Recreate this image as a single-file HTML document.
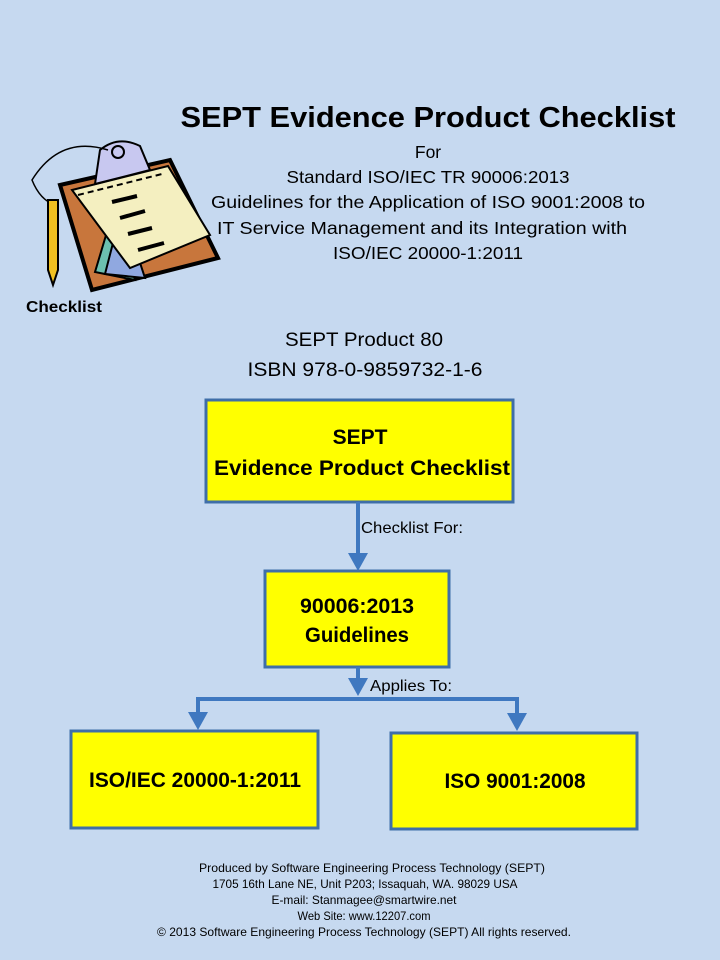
<!DOCTYPE html>
<html><head><meta charset="utf-8"><style>
html,body{margin:0;padding:0;background:#c6d9f0;}
svg{display:block;font-family:"Liberation Sans",sans-serif;}
</style></head><body>
<svg width="720" height="960" viewBox="0 0 720 960" xmlns="http://www.w3.org/2000/svg">
<rect width="720" height="960" fill="#c6d9f0"/>
<!-- clipart -->
<g stroke="#000" stroke-width="2">
<path d="M60 185 L170 160 L218 258 L92 290 Z" fill="#c8763c" stroke-width="4"/>
<path d="M95 272 L115 205 L135 280 Z" fill="#6cc0b0"/>
<path d="M105 274 L122 208 L145 278 Z" fill="#90a8e0"/>
<path d="M72 190 L168 166 L210 235 L130 268 Z" fill="#f4efc0"/>
<path d="M78 195 L162 174" fill="none" stroke-dasharray="6 4"/>
<path d="M100 150 Q118 135 140 146 L150 170 L95 184 Z" fill="#c8c8f0"/>
<circle cx="118" cy="152" r="6" fill="none"/>
<path d="M112 202 l25 -6 M120 218 l25 -7 M128 234 l24 -6 M138 250 l26 -7" stroke-width="4"/>
<path d="M108 150 Q60 135 32 180 Q40 200 55 205" fill="none" stroke-width="1.5"/>
<path d="M48 200 L58 200 L58 270 L53 285 L48 270 Z" fill="#f0c020"/>
</g>
<text x="64" y="312" font-size="16" font-weight="bold" text-anchor="middle" textLength="76" lengthAdjust="spacingAndGlyphs">Checklist</text>
<!-- title -->
<text x="428" y="127" font-size="29" font-weight="bold" text-anchor="middle" textLength="495" lengthAdjust="spacingAndGlyphs">SEPT Evidence Product Checklist</text>
<g font-size="17.5" text-anchor="middle">
<text x="428" y="158">For</text>
<text x="428" y="183" textLength="283" lengthAdjust="spacingAndGlyphs">Standard ISO/IEC TR 90006:2013</text>
<text x="428" y="208" textLength="434" lengthAdjust="spacingAndGlyphs">Guidelines for the Application of ISO 9001:2008 to</text>
<text x="422" y="234" textLength="410" lengthAdjust="spacingAndGlyphs">IT Service  Management and its Integration with</text>
<text x="428" y="259" textLength="190" lengthAdjust="spacingAndGlyphs">ISO/IEC 20000-1:2011</text>
</g>
<g font-size="19.5" text-anchor="middle">
<text x="364" y="346" textLength="158" lengthAdjust="spacingAndGlyphs">SEPT Product 80</text>
<text x="365" y="376" textLength="235" lengthAdjust="spacingAndGlyphs">ISBN 978-0-9859732-1-6</text>
</g>
<!-- boxes -->
<g fill="#ffff00" stroke="#3f6ea8" stroke-width="3">
<rect x="206" y="400" width="307" height="102"/>
<rect x="265" y="571" width="184" height="96"/>
<rect x="71" y="731" width="247" height="97"/>
<rect x="391" y="733" width="246" height="96"/>
</g>
<g font-size="21" font-weight="bold" text-anchor="middle">
<text x="360" y="444">SEPT</text>
<text x="362" y="475" textLength="296" lengthAdjust="spacingAndGlyphs">Evidence Product Checklist</text>
<text x="357" y="613" textLength="114" lengthAdjust="spacingAndGlyphs">90006:2013</text>
<text x="357" y="642" textLength="104" lengthAdjust="spacingAndGlyphs">Guidelines</text>
<text x="195" y="787" textLength="212" lengthAdjust="spacingAndGlyphs">ISO/IEC 20000-1:2011</text>
<text x="515" y="788" textLength="141" lengthAdjust="spacingAndGlyphs">ISO 9001:2008</text>
</g>
<!-- connectors -->
<g stroke="#3f78c0" stroke-width="4" fill="none">
<line x1="358" y1="502" x2="358" y2="555"/>
<line x1="358" y1="667" x2="358" y2="680"/>
<polyline points="198,714 198,699 517,699 517,714"/>
</g>
<g fill="#3f78c0">
<polygon points="348,553 368,553 358,571"/>
<polygon points="348,678 368,678 358,696"/>
<polygon points="188,712 208,712 198,730"/>
<polygon points="507,713 527,713 517,731"/>
</g>
<g font-size="16">
<text x="361" y="533" textLength="102" lengthAdjust="spacingAndGlyphs">Checklist For:</text>
<text x="370" y="691" textLength="82" lengthAdjust="spacingAndGlyphs">Applies To:</text>
</g>
<g font-size="12" text-anchor="middle">
<text x="372" y="872" textLength="346" lengthAdjust="spacingAndGlyphs">Produced by Software Engineering Process Technology (SEPT)</text>
<text x="365" y="888" textLength="305" lengthAdjust="spacingAndGlyphs">1705 16th Lane NE,  Unit P203; Issaquah, WA. 98029 USA</text>
<text x="364" y="904" textLength="185" lengthAdjust="spacingAndGlyphs">E-mail: Stanmagee@smartwire.net</text>
<text x="364" y="920" textLength="133" lengthAdjust="spacingAndGlyphs">Web Site: www.12207.com</text>
<text x="364" y="936" textLength="414" lengthAdjust="spacingAndGlyphs">© 2013  Software Engineering Process Technology (SEPT)  All rights reserved.</text>
</g>
</svg>
</body></html>
